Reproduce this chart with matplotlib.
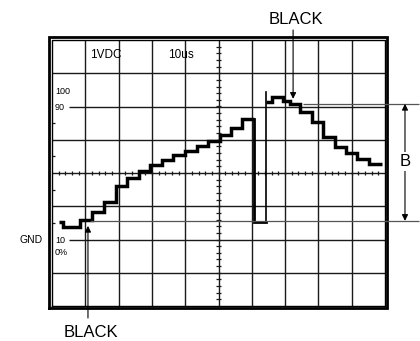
import numpy as np
import matplotlib.pyplot as plt

plt.rcParams["font.family"] = ["Liberation Sans", "DejaVu Sans"]

# screen is 10 x 8 divisions, values read in divisions
rise_edges = [0.21, 0.33, 0.84, 1.20, 1.56, 1.92, 2.25, 2.61, 2.94, 3.30,
              3.63, 3.99, 4.35, 4.68, 5.05, 5.38, 5.71, 6.07]
rise_levels = [2.53, 2.38, 2.59, 2.83, 3.13, 3.61, 3.85, 4.06, 4.24, 4.39,
               4.54, 4.66, 4.81, 4.96, 5.14, 5.35, 5.62]
pulse_x = [6.07, 6.07, 6.43]
pulse_y = [5.62, 2.53, 2.53]
pulse_rise_x = [6.43, 6.43]
pulse_rise_y = [2.53, 6.44]
fall_edges = [6.43, 6.61, 6.94, 7.15, 7.45, 7.81, 8.14, 8.50, 8.83, 9.16,
              9.52, 9.91]
fall_levels = [6.14, 6.29, 6.17, 6.08, 5.83, 5.53, 5.08, 4.78, 4.60, 4.42,
               4.27]

b_top = 6.08
b_bottom = 2.56

fig = plt.figure(figsize=(4.2, 3.41), dpi=100)
ax = fig.add_axes([52 / 420, 35 / 341, 333 / 420, 266 / 341])
ax.set_xlim(0, 10)
ax.set_ylim(0, 8)
ax.axis("off")

grid_kw = dict(color="#1a1a1a", lw=1.0, clip_on=False)

# graticule
ax.vlines(np.arange(1, 10), 0, 8, **grid_kw)
for yv in [1, 3, 4, 5, 7]:
    ax.hlines(yv, 0, 10, **grid_kw)
for yv in [2, 6]:
    ax.hlines(yv, 0.5, 10, **grid_kw)

# minor ticks on centre lines
minor = np.arange(0.2, 10, 0.2)
ax.vlines(minor, 4 - 0.06, 4 + 0.06, color="#1a1a1a", lw=0.9, clip_on=False)
minor_y = np.arange(0.2, 8, 0.2)
ax.hlines(minor_y, 5 - 0.07, 5 + 0.07, color="#1a1a1a", lw=0.9, clip_on=False)
ax.hlines([2.5, 3.5, 4.5, 5.5], 0, 0.08, color="#1a1a1a", lw=0.9, clip_on=False)

# borders
ax.plot([0, 10, 10, 0, 0], [0, 0, 8, 8, 0], color="black", lw=1.0, clip_on=False)
ax.plot([-0.09, 10.06, 10.06, -0.09, -0.09], [-0.06, -0.06, 8.09, 8.09, -0.06],
        color="black", lw=2.0, clip_on=False, solid_joinstyle="miter")

# waveform
wave_kw = dict(color="black", lw=2.5, solid_joinstyle="miter",
               solid_capstyle="butt", clip_on=False)
ax.plot(rise_edges, rise_levels + [rise_levels[-1]], drawstyle="steps-post", **wave_kw)
ax.plot(fall_edges, fall_levels + [fall_levels[-1]], drawstyle="steps-post", **wave_kw)
ax.plot(pulse_x, pulse_y, color="black", lw=2.0, solid_joinstyle="miter", clip_on=False)
ax.plot(pulse_rise_x, pulse_rise_y, color="black", lw=1.2, clip_on=False)

# B dimension
ax.hlines(b_top, 7.54, 11.02, color="#555555", lw=0.9, clip_on=False)
ax.hlines(b_bottom, 1.14, 11.02, color="#555555", lw=0.9, clip_on=False)
arr = dict(arrowstyle="-|>", color="black", lw=0.8, mutation_scale=9,
           shrinkA=0, shrinkB=0)
ax.annotate("", xy=(10.6, b_top), xytext=(10.6, 4.36), arrowprops=arr,
            annotation_clip=False)
ax.annotate("", xy=(10.6, b_bottom), xytext=(10.6, 4.36), arrowprops=arr,
            annotation_clip=False)
ax.text(10.6, 4.36, "B", fontsize=12, ha="center", va="center",
        bbox=dict(facecolor="white", edgecolor="none", pad=1.5), clip_on=False)

# BLACK arrows
ax.annotate("", xy=(7.24, 6.23), xytext=(7.24, 8.3), arrowprops=arr,
            annotation_clip=False)
ax.text(7.33, 8.63, "BLACK", fontsize=12, ha="center", va="center", clip_on=False)
ax.annotate("", xy=(1.08, 2.41), xytext=(1.08, -0.36), arrowprops=arr,
            annotation_clip=False)
ax.text(1.17, -0.81, "BLACK", fontsize=12, ha="center", va="center", clip_on=False)

# labels
ax.text(1.14, 7.55, "1VDC", fontsize=8.5, ha="left", va="center")
ax.text(3.48, 7.55, "10us", fontsize=8.5, ha="left", va="center")
ax.text(0.09, 6.44, "100", fontsize=6.5, ha="left", va="center")
ax.text(0.09, 5.98, "90", fontsize=6.5, ha="left", va="center")
ax.text(0.09, 1.98, "10", fontsize=6.5, ha="left", va="center")
ax.text(0.09, 1.60, "0%", fontsize=6.5, ha="left", va="center")
ax.text(-0.27, 1.97, "GND", fontsize=7.5, ha="right", va="center", clip_on=False)

fig.savefig("out.png", dpi=100, facecolor="white")
